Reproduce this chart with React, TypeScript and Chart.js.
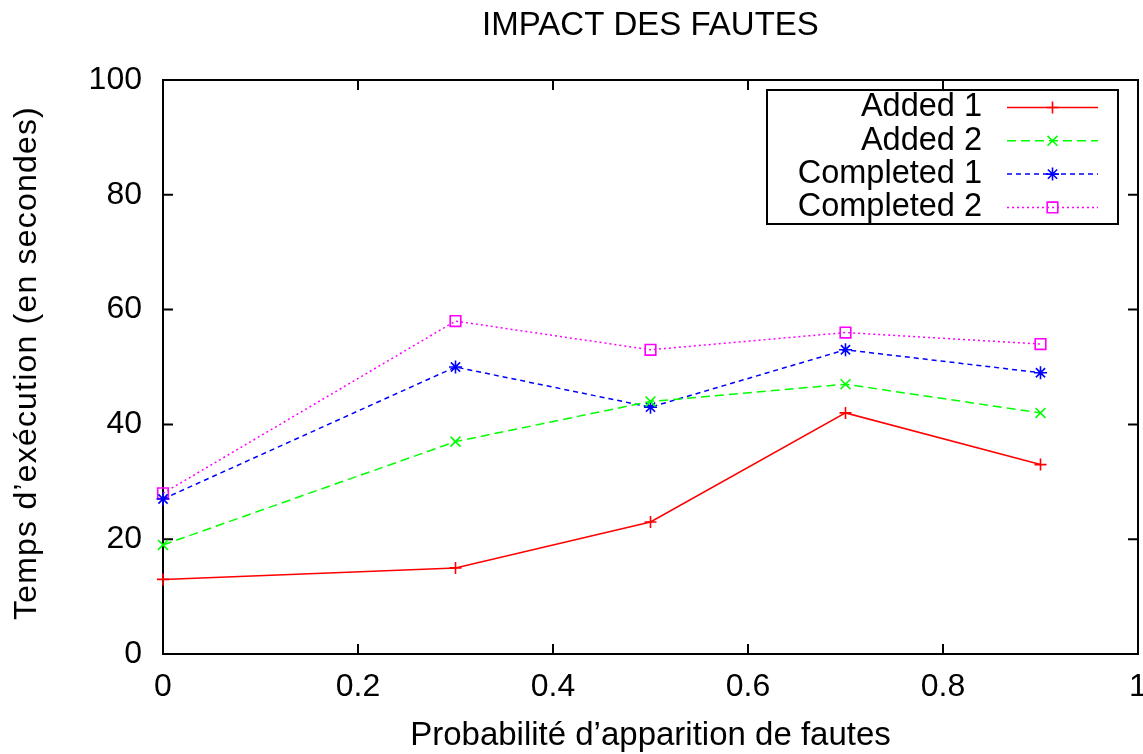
import React, { useEffect, useRef } from 'react';
import { Chart, registerables } from 'chart.js';

Chart.register(...registerables);

const probabilities = [0, 0.3, 0.5, 0.7, 0.9];
const added1 = [13, 15, 23, 42, 33];
const added2 = [19, 37, 44, 47, 42];
const completed1 = [27, 50, 43, 53, 49];
const completed2 = [28, 58, 53, 56, 54];
const seriesLabels = ['Added 1', 'Added 2', 'Completed 1', 'Completed 2'];
const xTickValues = [0, 0.2, 0.4, 0.6, 0.8, 1];
const yTickValues = [0, 20, 40, 60, 80, 100];
const titleText = 'IMPACT DES FAUTES';
const xTitleText = 'Probabilité d’apparition de fautes';
const yTitleText = 'Temps d’exécution (en secondes)';

const FONT = 'Liberation Sans, Arial, Helvetica, sans-serif';
const FS = 32;

function drawMarker(ctx: CanvasRenderingContext2D, style: string, x: number, y: number, r: number) {
  ctx.beginPath();
  const d = r * Math.SQRT1_2;
  if (style === 'cross' || style === 'star') {
    ctx.moveTo(x - r, y); ctx.lineTo(x + r, y);
    ctx.moveTo(x, y - r); ctx.lineTo(x, y + r);
  }
  if (style === 'crossRot' || style === 'star') {
    ctx.moveTo(x - d, y - d); ctx.lineTo(x + d, y + d);
    ctx.moveTo(x - d, y + d); ctx.lineTo(x + d, y - d);
  }
  if (style === 'rect') {
    ctx.rect(x - d, y - d, 2 * d, 2 * d);
  }
  ctx.stroke();
}

const framePlugin = {
  id: 'gnuFrame',
  beforeDatasetsDraw(chart: any) {
    const { ctx, chartArea, scales } = chart;
    const { left, right, top, bottom } = chartArea;
    ctx.save();
    ctx.strokeStyle = '#000';
    ctx.lineWidth = 2;
    ctx.strokeRect(left, top, right - left, bottom - top);
    ctx.beginPath();
    const tl = 10;
    xTickValues.forEach((v) => {
      const px = scales.x.getPixelForValue(v);
      ctx.moveTo(px, bottom); ctx.lineTo(px, bottom - tl);
      ctx.moveTo(px, top); ctx.lineTo(px, top + tl);
    });
    yTickValues.forEach((v) => {
      const py = scales.y.getPixelForValue(v);
      ctx.moveTo(left, py); ctx.lineTo(left + tl, py);
      ctx.moveTo(right, py); ctx.lineTo(right - tl, py);
    });
    ctx.stroke();
    // rotated y-axis title, gnuplot-like spacing
    ctx.fillStyle = '#000';
    ctx.font = `${FS}px ${FONT}`;
    (ctx as any).letterSpacing = '1.2px';
    ctx.textAlign = 'center';
    ctx.textBaseline = 'middle';
    ctx.translate(27, (top + bottom) / 2 - 4);
    ctx.rotate(-Math.PI / 2);
    ctx.fillText(yTitleText, 0, 0);
    ctx.restore();
  },
};

const keyPlugin = {
  id: 'gnuKey',
  afterDatasetsDraw(chart: any) {
    const { ctx, chartArea } = chart;
    const boxRight = chartArea.right - 20;
    const boxTop = chartArea.top + 10;
    const boxW = 351;
    const boxH = 134;
    const boxLeft = boxRight - boxW;
    ctx.save();
    ctx.strokeStyle = '#000';
    ctx.lineWidth = 2;
    ctx.strokeRect(boxLeft, boxTop, boxW, boxH);
    ctx.font = `32.5px ${FONT}`;
    ctx.textAlign = 'right';
    ctx.textBaseline = 'middle';
    chart.data.datasets.forEach((ds: any, i: number) => {
      const yy = boxTop + 17.5 + i * 33.3;
      ctx.fillStyle = '#000';
      ctx.fillText(ds.label, boxLeft + 215, yy);
      const x0 = boxRight - 111;
      const x1 = boxRight - 20;
      ctx.strokeStyle = ds.borderColor;
      ctx.lineWidth = ds.borderWidth;
      ctx.setLineDash(ds.borderDash || []);
      ctx.beginPath();
      ctx.moveTo(x0, yy); ctx.lineTo(x1, yy);
      ctx.stroke();
      ctx.setLineDash([]);
      ctx.lineWidth = ds.pointBorderWidth;
      drawMarker(ctx, ds.pointStyle, (x0 + x1) / 2, yy, ds.pointRadius);
    });
    ctx.restore();
  },
};

const seriesValues = [added1, added2, completed1, completed2];
const seriesColors = ['#ff0000', '#00ff00', '#0000ff', '#ff00ff'];
const seriesDashes = [[], [9, 5], [5, 4], [2, 3]];
const seriesMarkers = ['cross', 'crossRot', 'star', 'rect'];
const seriesMarkerSizes = [6, 7, 6.5, 7.5];

export default function App() {
  const canvasRef = useRef<HTMLCanvasElement | null>(null);

  useEffect(() => {
    document.body.style.margin = '0';
    const canvas = canvasRef.current;
    if (!canvas) return;
    const font = { family: FONT, size: FS, weight: 'normal' as const, lineHeight: 1.2 };
    const chart = new Chart(canvas, {
      type: 'line',
      data: {
        datasets: seriesLabels.map((label, i) => ({
          label,
          data: probabilities.map((p, j) => ({ x: p, y: seriesValues[i][j] })),
          borderColor: seriesColors[i],
          backgroundColor: 'transparent',
          borderWidth: 1.5,
          borderDash: seriesDashes[i],
          pointStyle: seriesMarkers[i] as any,
          pointRadius: seriesMarkerSizes[i],
          pointHoverRadius: seriesMarkerSizes[i],
          pointBorderColor: seriesColors[i],
          pointBackgroundColor: 'transparent',
          pointBorderWidth: 1.6,
          tension: 0,
          fill: false,
          clip: false as any,
        })),
      },
      options: {
        responsive: false,
        animation: false,
        events: [],
        layout: { autoPadding: false, padding: { left: 0, right: 5, top: 0, bottom: 0 } },
        plugins: {
          legend: { display: false },
          tooltip: { enabled: false },
          title: {
            display: true,
            text: titleText,
            fullSize: false,
            color: '#000',
            font: { family: FONT, size: 33, weight: 'normal' as const, lineHeight: 1.2 },
            padding: { top: 6, bottom: 34.4 },
          },
        },
        scales: {
          x: {
            type: 'linear',
            min: 0,
            max: 1,
            afterBuildTicks: (s: any) => { s.ticks = xTickValues.map((v) => ({ value: v })); },
            afterFit: (s: any) => { s.height = 100; s.paddingLeft = 0; s.paddingRight = 0; },
            grid: { display: false, drawTicks: false },
            border: { display: false },
            ticks: {
              color: '#000',
              font,
              padding: 14,
              maxRotation: 0,
              autoSkip: false,
              callback: (v: any) => String(Math.round(Number(v) * 10) / 10),
            },
            title: {
              display: true,
              text: xTitleText,
              color: '#000',
              font: { family: FONT, size: 33, weight: 'normal' as const, lineHeight: 1.1 },
              padding: { top: 0, bottom: 0 },
            },
          },
          y: {
            type: 'linear',
            min: 0,
            max: 100,
            afterBuildTicks: (s: any) => { s.ticks = yTickValues.map((v) => ({ value: v })); },
            afterFit: (s: any) => { s.width = 163; s.paddingTop = 0; s.paddingBottom = 0; },
            grid: { display: false, drawTicks: false },
            border: { display: false },
            ticks: {
              color: '#000',
              font,
              padding: 21,
              autoSkip: false,
              callback: (v: any) => String(v),
            },
            title: { display: false, text: yTitleText },
          },
        },
      },
      plugins: [framePlugin, keyPlugin],
    });
    return () => chart.destroy();
  }, []);

  return (
    <div style={{ position: 'absolute', left: 0, top: 0, width: 1143, height: 754 }}>
      <canvas ref={canvasRef} width={1143} height={754} />
    </div>
  );
}
